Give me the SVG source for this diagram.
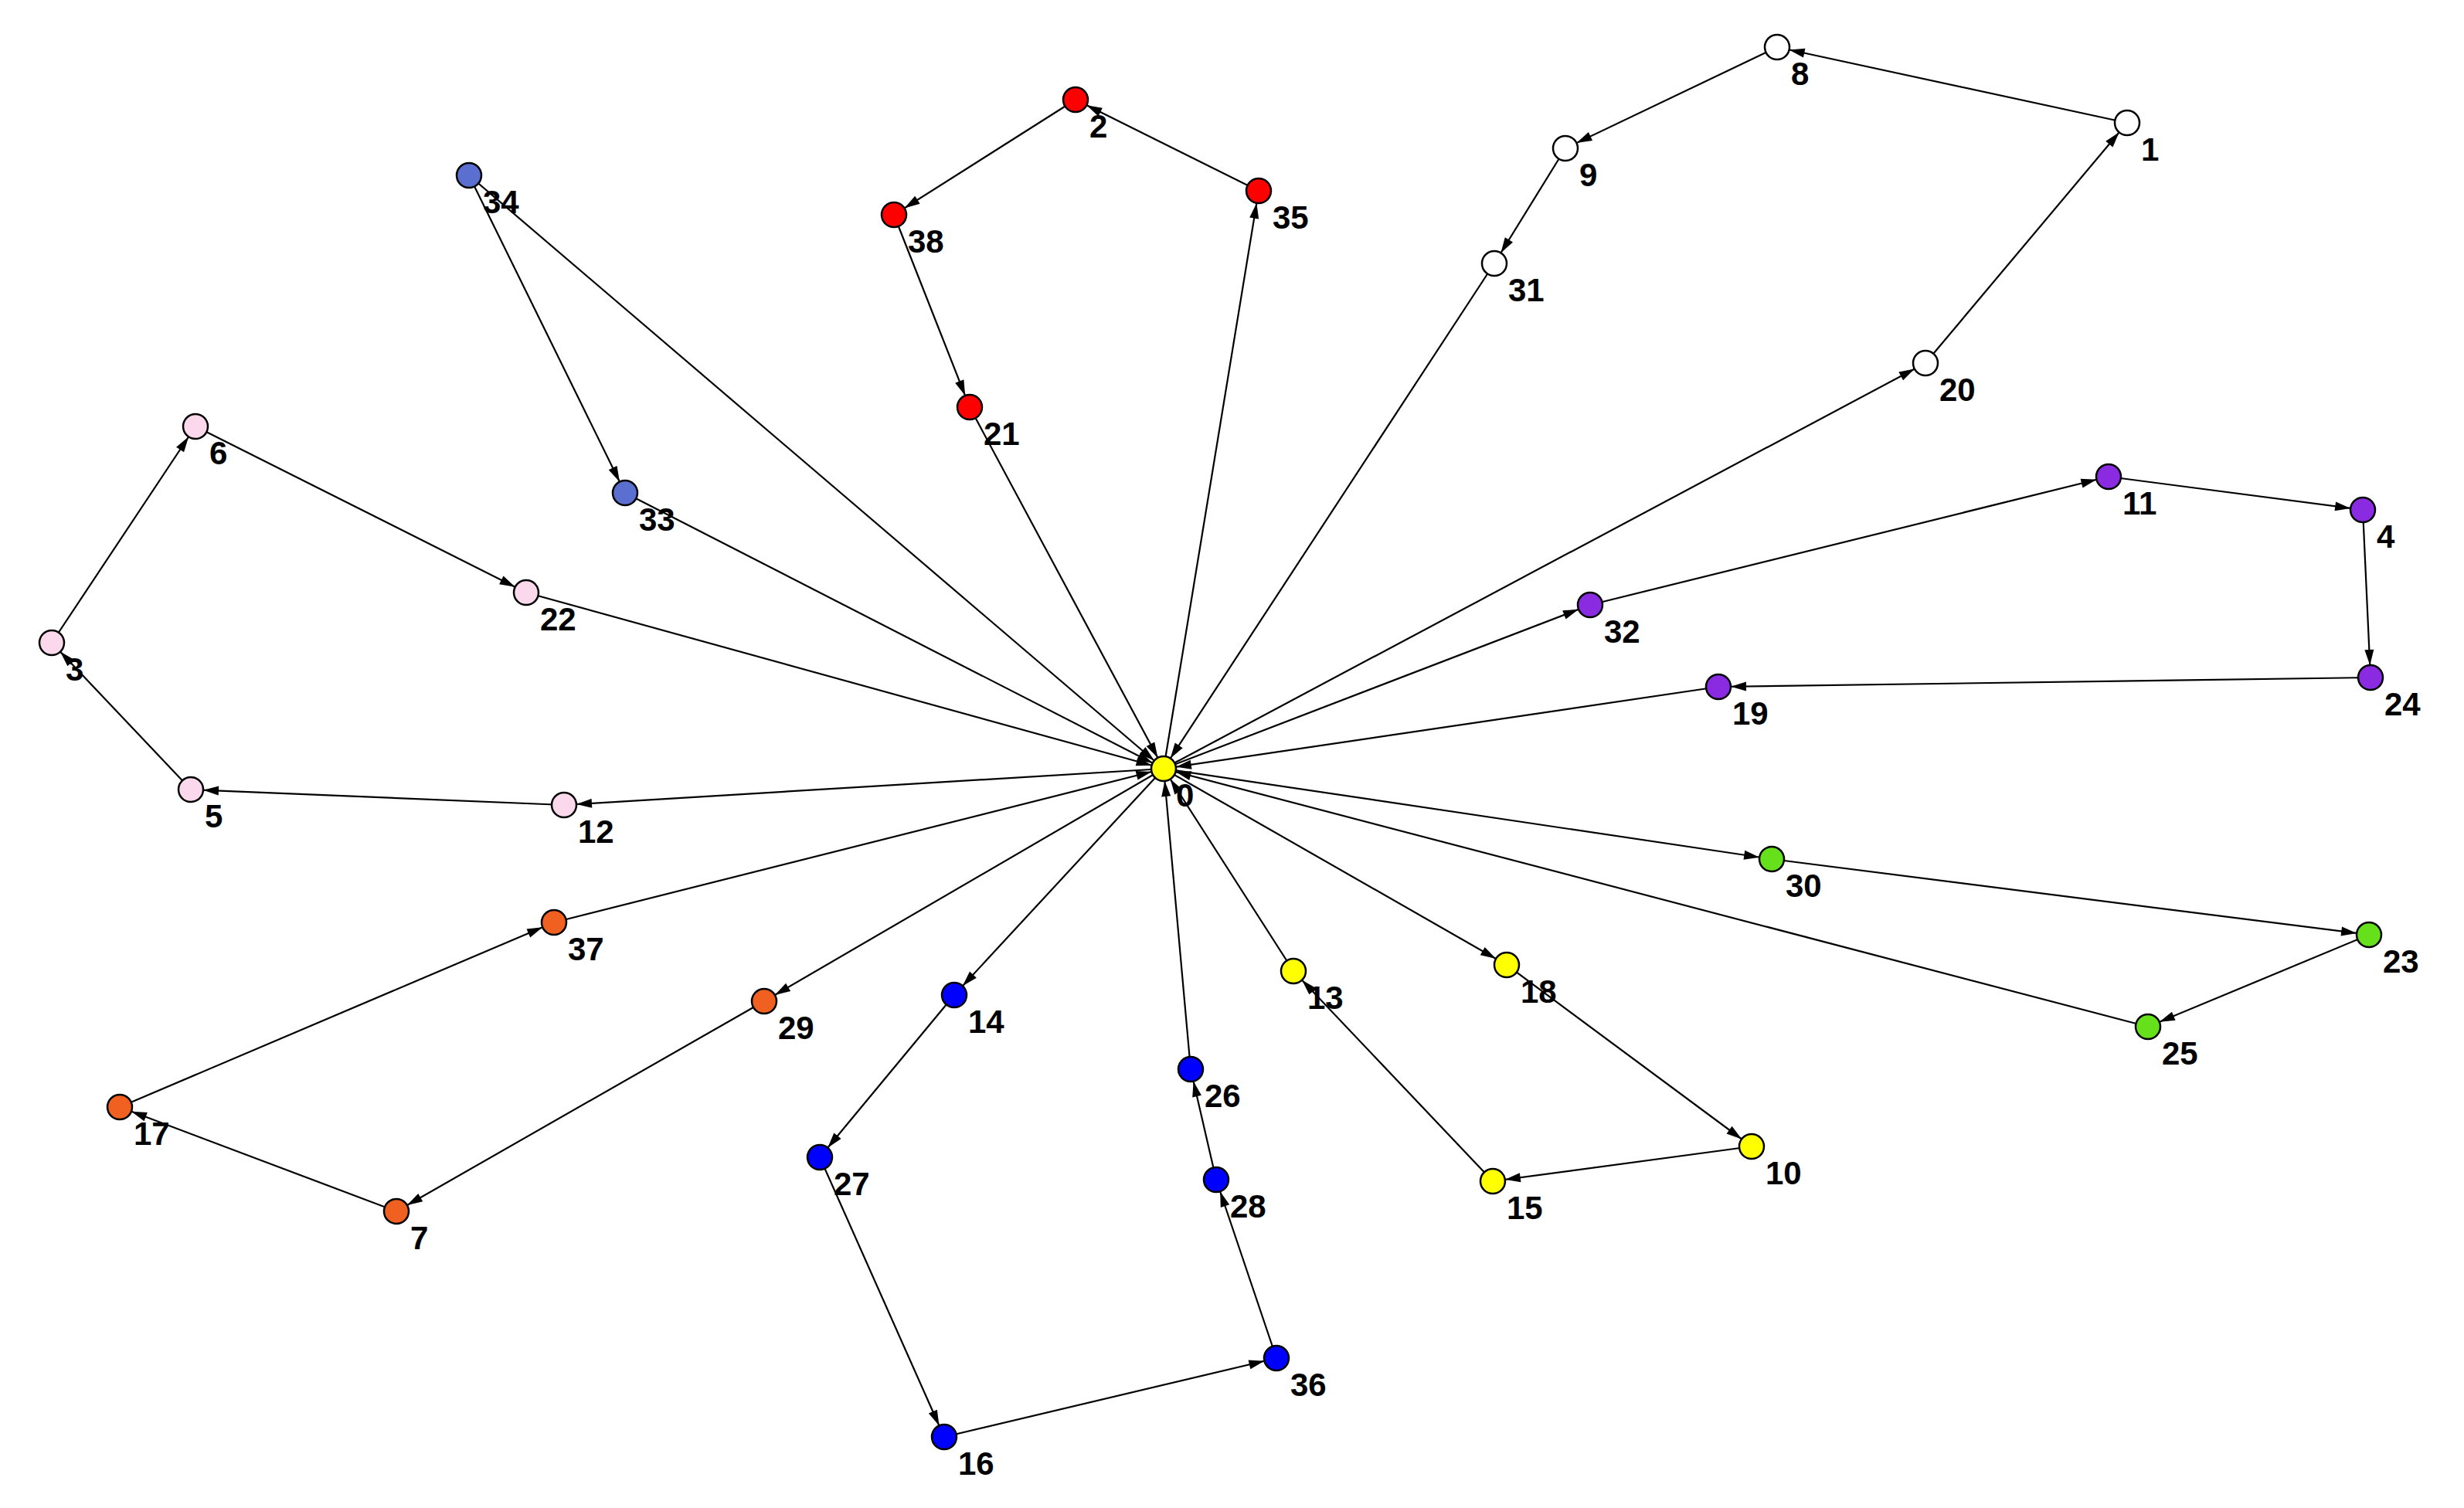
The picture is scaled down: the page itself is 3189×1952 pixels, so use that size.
<svg xmlns="http://www.w3.org/2000/svg" width="3189" height="1952" viewBox="0 0 3189 1952">
<style>
.e{stroke:#000;stroke-width:2.2;fill:none;marker-end:url(#a)}
.n{stroke:#000;stroke-width:2.5}
.l{font-family:"Liberation Sans",Arial,sans-serif;font-weight:bold;font-size:42px;fill:#000}
.w{fill:#fff}.r{fill:#f00}.p{fill:#fcd8ec}.s{fill:#5a6fd0}.v{fill:#8a2be2}.g{fill:#66e01a}.y{fill:#ffff00}.b{fill:#0000ff}.o{fill:#f06020}
</style>
<defs>
<marker id="a" markerUnits="userSpaceOnUse" markerWidth="40" markerHeight="20" refX="36" refY="0" orient="auto" overflow="visible" viewBox="0 -10 40 20">
<path d="M0,-6 L20,0 L0,6 Z" fill="#000"/>
</marker>
</defs>
<rect width="3189" height="1952" fill="#fff"/>
<g id="edges">
<line class="e" x1="1506" y1="995" x2="2492" y2="470"/>
<line class="e" x1="2492" y1="470" x2="2753" y2="159"/>
<line class="e" x1="2753" y1="159" x2="2300" y2="61"/>
<line class="e" x1="2300" y1="61" x2="2026" y2="192"/>
<line class="e" x1="2026" y1="192" x2="1934" y2="341"/>
<line class="e" x1="1934" y1="341" x2="1506" y2="995"/>
<line class="e" x1="1506" y1="995" x2="1629" y2="247"/>
<line class="e" x1="1629" y1="247" x2="1392" y2="129"/>
<line class="e" x1="1392" y1="129" x2="1157" y2="278"/>
<line class="e" x1="1157" y1="278" x2="1255" y2="527"/>
<line class="e" x1="1255" y1="527" x2="1506" y2="995"/>
<line class="e" x1="607" y1="227" x2="809" y2="638"/>
<line class="e" x1="809" y1="638" x2="1506" y2="995"/>
<line class="e" x1="607" y1="227" x2="1506" y2="995"/>
<line class="e" x1="681" y1="767" x2="1506" y2="995"/>
<line class="e" x1="253" y1="552" x2="681" y2="767"/>
<line class="e" x1="67" y1="832" x2="253" y2="552"/>
<line class="e" x1="247" y1="1022" x2="67" y2="832"/>
<line class="e" x1="730" y1="1042" x2="247" y2="1022"/>
<line class="e" x1="1506" y1="995" x2="730" y2="1042"/>
<line class="e" x1="1506" y1="995" x2="2058" y2="783"/>
<line class="e" x1="2058" y1="783" x2="2729" y2="617"/>
<line class="e" x1="2729" y1="617" x2="3058" y2="660"/>
<line class="e" x1="3058" y1="660" x2="3068" y2="877"/>
<line class="e" x1="3068" y1="877" x2="2224" y2="889"/>
<line class="e" x1="2224" y1="889" x2="1506" y2="995"/>
<line class="e" x1="1506" y1="995" x2="2293" y2="1112"/>
<line class="e" x1="2293" y1="1112" x2="3066" y2="1210"/>
<line class="e" x1="3066" y1="1210" x2="2780" y2="1329"/>
<line class="e" x1="2780" y1="1329" x2="1506" y2="995"/>
<line class="e" x1="1506" y1="995" x2="1950" y2="1249"/>
<line class="e" x1="1950" y1="1249" x2="2267" y2="1484"/>
<line class="e" x1="2267" y1="1484" x2="1932" y2="1529"/>
<line class="e" x1="1932" y1="1529" x2="1674" y2="1257"/>
<line class="e" x1="1674" y1="1257" x2="1506" y2="995"/>
<line class="e" x1="1506" y1="995" x2="1235" y2="1288"/>
<line class="e" x1="1235" y1="1288" x2="1061" y2="1498"/>
<line class="e" x1="1061" y1="1498" x2="1222" y2="1860"/>
<line class="e" x1="1222" y1="1860" x2="1652" y2="1758"/>
<line class="e" x1="1652" y1="1758" x2="1574" y2="1527"/>
<line class="e" x1="1574" y1="1527" x2="1541" y2="1384"/>
<line class="e" x1="1541" y1="1384" x2="1506" y2="995"/>
<line class="e" x1="1506" y1="995" x2="989" y2="1296"/>
<line class="e" x1="989" y1="1296" x2="513" y2="1568"/>
<line class="e" x1="513" y1="1568" x2="155" y2="1433"/>
<line class="e" x1="155" y1="1433" x2="717" y2="1194"/>
<line class="e" x1="717" y1="1194" x2="1506" y2="995"/>
</g>
<g id="n0"><circle class="n y" cx="1506" cy="995" r="16"/><text class="l" x="1522" y="1044">0</text></g>
<g id="n1"><circle class="n w" cx="2753" cy="159" r="16"/><text class="l" x="2771" y="208">1</text></g>
<g id="n2"><circle class="n r" cx="1392" cy="129" r="16"/><text class="l" x="1410" y="178">2</text></g>
<g id="n3"><circle class="n p" cx="67" cy="832" r="16"/><text class="l" x="85" y="881">3</text></g>
<g id="n4"><circle class="n v" cx="3058" cy="660" r="16"/><text class="l" x="3076" y="709">4</text></g>
<g id="n5"><circle class="n p" cx="247" cy="1022" r="16"/><text class="l" x="265" y="1071">5</text></g>
<g id="n6"><circle class="n p" cx="253" cy="552" r="16"/><text class="l" x="271" y="601">6</text></g>
<g id="n7"><circle class="n o" cx="513" cy="1568" r="16"/><text class="l" x="531" y="1617">7</text></g>
<g id="n8"><circle class="n w" cx="2300" cy="61" r="16"/><text class="l" x="2318" y="110">8</text></g>
<g id="n9"><circle class="n w" cx="2026" cy="192" r="16"/><text class="l" x="2044" y="241">9</text></g>
<g id="n10"><circle class="n y" cx="2267" cy="1484" r="16"/><text class="l" x="2285" y="1533">10</text></g>
<g id="n11"><circle class="n v" cx="2729" cy="617" r="16"/><text class="l" x="2747" y="666">11</text></g>
<g id="n12"><circle class="n p" cx="730" cy="1042" r="16"/><text class="l" x="748" y="1091">12</text></g>
<g id="n13"><circle class="n y" cx="1674" cy="1257" r="16"/><text class="l" x="1692" y="1306">13</text></g>
<g id="n14"><circle class="n b" cx="1235" cy="1288" r="16"/><text class="l" x="1253" y="1337">14</text></g>
<g id="n15"><circle class="n y" cx="1932" cy="1529" r="16"/><text class="l" x="1950" y="1578">15</text></g>
<g id="n16"><circle class="n b" cx="1222" cy="1860" r="16"/><text class="l" x="1240" y="1909">16</text></g>
<g id="n17"><circle class="n o" cx="155" cy="1433" r="16"/><text class="l" x="173" y="1482">17</text></g>
<g id="n18"><circle class="n y" cx="1950" cy="1249" r="16"/><text class="l" x="1968" y="1298">18</text></g>
<g id="n19"><circle class="n v" cx="2224" cy="889" r="16"/><text class="l" x="2242" y="938">19</text></g>
<g id="n20"><circle class="n w" cx="2492" cy="470" r="16"/><text class="l" x="2510" y="519">20</text></g>
<g id="n21"><circle class="n r" cx="1255" cy="527" r="16"/><text class="l" x="1273" y="576">21</text></g>
<g id="n22"><circle class="n p" cx="681" cy="767" r="16"/><text class="l" x="699" y="816">22</text></g>
<g id="n23"><circle class="n g" cx="3066" cy="1210" r="16"/><text class="l" x="3084" y="1259">23</text></g>
<g id="n24"><circle class="n v" cx="3068" cy="877" r="16"/><text class="l" x="3086" y="926">24</text></g>
<g id="n25"><circle class="n g" cx="2780" cy="1329" r="16"/><text class="l" x="2798" y="1378">25</text></g>
<g id="n26"><circle class="n b" cx="1541" cy="1384" r="16"/><text class="l" x="1559" y="1433">26</text></g>
<g id="n27"><circle class="n b" cx="1061" cy="1498" r="16"/><text class="l" x="1079" y="1547">27</text></g>
<g id="n28"><circle class="n b" cx="1574" cy="1527" r="16"/><text class="l" x="1592" y="1576">28</text></g>
<g id="n29"><circle class="n o" cx="989" cy="1296" r="16"/><text class="l" x="1007" y="1345">29</text></g>
<g id="n30"><circle class="n g" cx="2293" cy="1112" r="16"/><text class="l" x="2311" y="1161">30</text></g>
<g id="n31"><circle class="n w" cx="1934" cy="341" r="16"/><text class="l" x="1952" y="390">31</text></g>
<g id="n32"><circle class="n v" cx="2058" cy="783" r="16"/><text class="l" x="2076" y="832">32</text></g>
<g id="n33"><circle class="n s" cx="809" cy="638" r="16"/><text class="l" x="827" y="687">33</text></g>
<g id="n34"><circle class="n s" cx="607" cy="227" r="16"/><text class="l" x="625" y="276">34</text></g>
<g id="n35"><circle class="n r" cx="1629" cy="247" r="16"/><text class="l" x="1647" y="296">35</text></g>
<g id="n36"><circle class="n b" cx="1652" cy="1758" r="16"/><text class="l" x="1670" y="1807">36</text></g>
<g id="n37"><circle class="n o" cx="717" cy="1194" r="16"/><text class="l" x="735" y="1243">37</text></g>
<g id="n38"><circle class="n r" cx="1157" cy="278" r="16"/><text class="l" x="1175" y="327">38</text></g>
</svg>
